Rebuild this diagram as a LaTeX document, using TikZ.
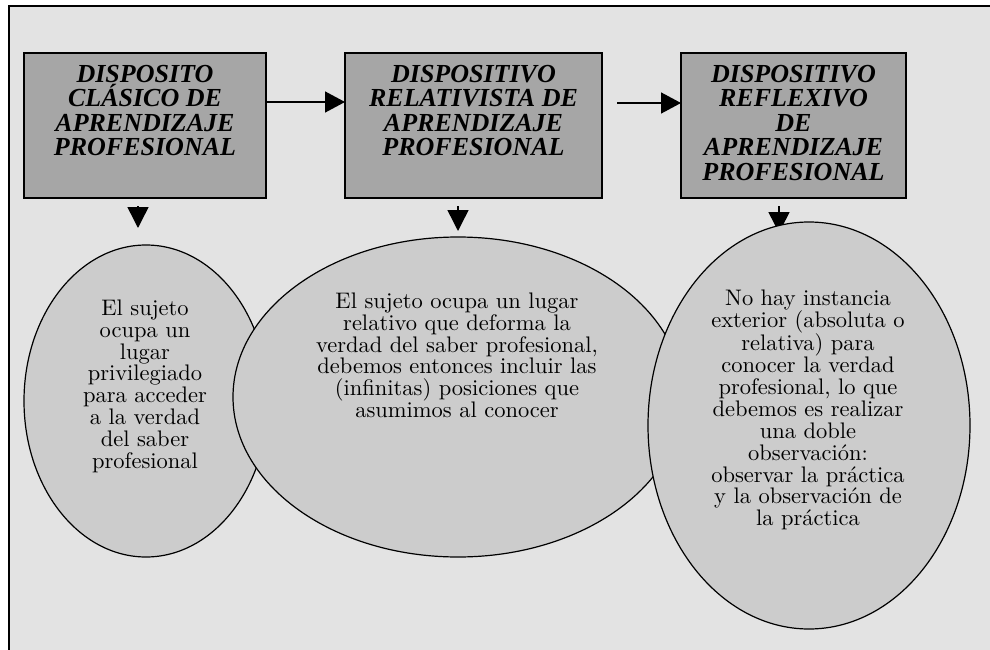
\documentclass[tikz,border=0pt]{standalone}
\usepackage{fontspec}
\newfontfamily\headfont{Liberation Serif}
\newfontfamily\bodyfont{lmroman10-regular.otf}
\usetikzlibrary{arrows.meta,shapes.geometric}
\definecolor{bggray}{HTML}{E3E3E3}
\definecolor{boxgray}{HTML}{A6A6A6}
\definecolor{ellgray}{HTML}{CCCCCC}
\begin{document}
\begin{tikzpicture}[x=1pt,y=-1pt,
  boxnode/.style={draw=black, line width=1.5pt, fill=boxgray, rectangle, inner sep=0pt, outer sep=0pt},
  headtext/.style={font=\headfont\bfseries\itshape\fontsize{26}{24.5}\selectfont, align=center, anchor=north, inner sep=0pt},
  ellnode/.style={ellipse, draw=black, line width=1.2pt, fill=ellgray, inner sep=0pt, outer sep=0pt},
  bodytext/.style={font=\bodyfont\fontsize{22.5}{21.9}\selectfont, align=center, anchor=north, inner sep=0pt},
  conn/.style={line width=1.5pt, -{Triangle[length=20pt,width=21pt]}},
  downconn/.style={line width=1.5pt, -{Triangle[length=21pt,width=21pt]}}]
\useasboundingbox (0,0) rectangle (990,650);
\fill[white] (0,0) rectangle (990,650);
\draw[line width=2pt, fill=bggray] (9,6) rectangle (1000,665);

% boxes
\node[boxnode, minimum width=242pt, minimum height=145pt] (b1) at (145,125.5) {};
\node[boxnode, minimum width=257pt, minimum height=145pt] (b2) at (473.5,125.5) {};
\node[boxnode, minimum width=225pt, minimum height=145pt] (b3) at (793.5,125.5) {};
\node[headtext] (h1) at (145,65) {DISPOSITO\\CLÁSICO DE\\APRENDIZAJE\\PROFESIONAL};
\node[headtext] (h2) at (473.5,65) {DISPOSITIVO\\RELATIVISTA DE\\APRENDIZAJE\\PROFESIONAL};
\node[headtext] (h3) at (793.5,65) {DISPOSITIVO\\REFLEXIVO\\DE\\APRENDIZAJE\\PROFESIONAL};

% horizontal connectors
\coordinate (y1) at (0,102);
\coordinate (s2) at (617,103);
\draw[conn] (b1.east |- y1) -- (b2.west |- y1);
\draw[conn] (s2) -- (b3.west |- s2);

% down connectors
\coordinate (d1s) at (138,206);
\coordinate (d1e) at (138,228);
\coordinate (d2s) at (458,206);
\coordinate (d2e) at (458,231);
\coordinate (d3s) at (779,206);
\coordinate (d3e) at (779,233);
\draw[downconn] (d1s) -- (d1e);
\draw[downconn] (d2s) -- (d2e);
\draw[downconn] (d3s) -- (d3e);

% ellipses
\node[ellnode, minimum width=244pt, minimum height=312pt] (e1) at (146,401) {};
\node[ellnode, minimum width=450pt, minimum height=320pt] (e2) at (458,397) {};
\node[ellnode, minimum width=322pt, minimum height=407pt] (e3) at (809,425.5) {};

\node[bodytext] (t1) at (145,299.4) {El sujeto\\ocupa un\\lugar\\privilegiado\\para acceder\\a la verdad\\del saber\\profesional};
\node[bodytext] (t2) at (457,292.4) {El sujeto ocupa un lugar\\relativo que deforma la\\verdad del saber profesional,\\debemos entonces incluir las\\(infinitas) posiciones que\\asumimos al conocer};
\node[bodytext] (t3) at (808,289.4) {No hay instancia\\exterior (absoluta o\\relativa) para\\conocer la verdad\\profesional, lo que\\debemos es realizar\\una doble\\observación:\\observar la práctica\\y la observación de\\la práctica};
\end{tikzpicture}
\end{document}
